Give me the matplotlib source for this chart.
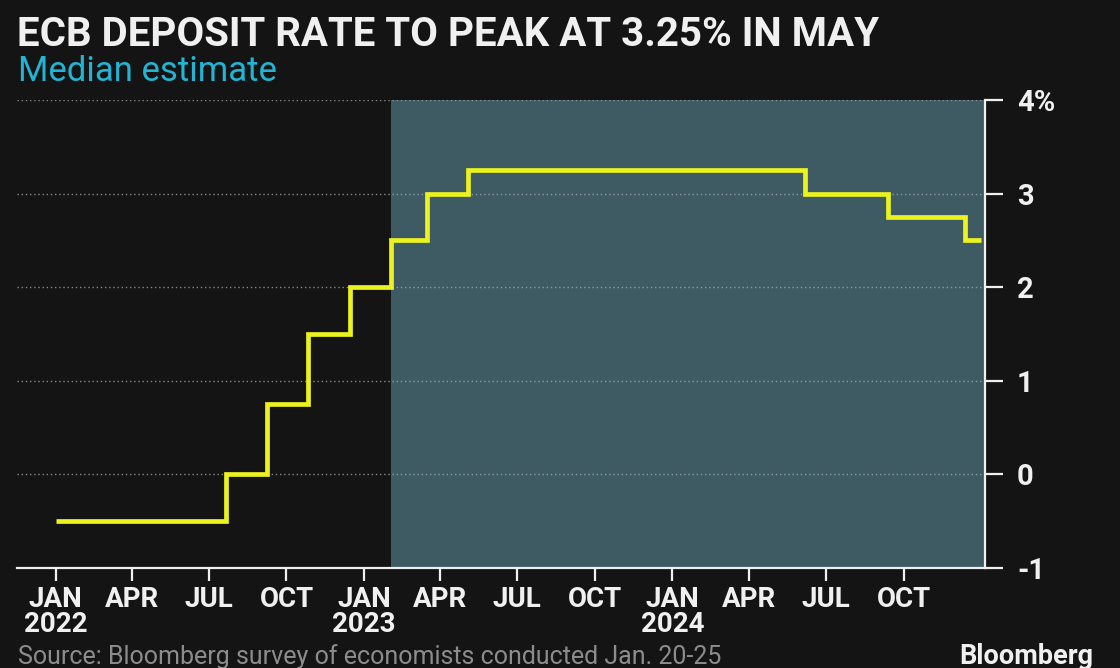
import matplotlib
matplotlib.use("Agg")
import matplotlib.pyplot as plt
import pandas as pd

# ---- data ----
change_dates = ["2022-01-01", "2022-07-21", "2022-09-08", "2022-10-27", "2022-12-15",
                "2023-02-02", "2023-03-16", "2023-05-04", "2024-06-06", "2024-09-12",
                "2024-12-12", "2024-12-31"]
deposit_rate = [-0.5, 0.0, 0.75, 1.5, 2.0, 2.5, 3.0, 3.25, 3.0, 2.75, 2.5, 2.5]

forecast_start = "2023-02-02"
tick_dates = ["2022-01-01", "2022-04-01", "2022-07-01", "2022-10-01", "2023-01-01",
              "2023-04-01", "2023-07-01", "2023-10-01", "2024-01-01", "2024-04-01",
              "2024-07-01", "2024-10-01"]
tick_labels = ["JAN\n2022", "APR", "JUL", "OCT", "JAN\n2023", "APR", "JUL", "OCT",
               "JAN\n2024", "APR", "JUL", "OCT"]
y_ticks = [-1, 0, 1, 2, 3, 4]
y_labels = ["-1", "0", "1", "2", "3", "4%"]
grid_levels = [0, 1, 2, 3, 4]

title = "ECB DEPOSIT RATE TO PEAK AT 3.25% IN MAY"
subtitle = "Median estimate"
source = "Source: Bloomberg survey of economists conducted Jan. 20-25"

# ---- style ----
FONT = ["Roboto", "DejaVu Sans"]
plt.rcParams["font.family"] = FONT
BG = "#141414"
SHADE = "#3e5b64"
YELLOW = "#ecf21e"
WHITE = "#f0f0f0"

fig = plt.figure(figsize=(11.2, 6.68), dpi=100, facecolor=BG)
ax = fig.add_axes([17 / 1120, 1 - 568 / 668, (985 - 17) / 1120, (568 - 100) / 668])
ax.set_facecolor(BG)

x = pd.to_datetime(change_dates)
xmin = pd.Timestamp("2021-11-16")
xmax = pd.Timestamp("2025-01-05")
ax.set_xlim(xmin, xmax)
ax.set_ylim(-1, 4)

ax.axvspan(pd.Timestamp(forecast_start), xmax, color=SHADE, zorder=0, lw=0)

for yv in grid_levels:
    ax.axhline(yv, color="#a6b0b4", lw=1.0, ls=(0, (1, 2)), zorder=1, alpha=0.75)

ax.step(x, deposit_rate, where="post", color=YELLOW, lw=3.4, zorder=3,
        solid_joinstyle="miter", solid_capstyle="butt")

# axes
for s in ["top", "left"]:
    ax.spines[s].set_visible(False)
ax.spines["right"].set_color(WHITE)
ax.spines["bottom"].set_color(WHITE)
ax.spines["right"].set_linewidth(1.6)
ax.spines["bottom"].set_linewidth(1.6)

ax.yaxis.tick_right()
ax.set_yticks(y_ticks)
ax.set_yticklabels(y_labels)
ax.tick_params(axis="y", colors=WHITE, length=13, width=1.6, pad=10,
               labelsize=21, labelcolor=WHITE)
for lab in ax.get_yticklabels():
    lab.set_fontweight("bold")

ax.set_xticks(pd.to_datetime(tick_dates))
ax.set_xticklabels(tick_labels)
ax.tick_params(axis="x", colors=WHITE, length=9, width=1.6, pad=4,
               labelsize=20, labelcolor=WHITE)
for lab in ax.get_xticklabels():
    lab.set_fontweight("bold")
    lab.set_linespacing(0.92)

fig.text(17 / 1120, 1 - 46 / 668, title, color=WHITE, fontsize=29, fontweight="bold",
         ha="left", va="baseline")
fig.text(18 / 1120, 1 - 81 / 668, subtitle, color="#22b4d2", fontsize=25,
         ha="left", va="baseline")
fig.text(18 / 1120, 1 - 664 / 668, source, color="#8c8c8c", fontsize=18,
         ha="left", va="baseline")
fig.text(1093 / 1120, 1 - 664 / 668, "Bloomberg", color=WHITE, fontsize=19.5,
         fontweight="bold", ha="right", va="baseline")

fig.savefig("out.png", dpi=100, facecolor=BG)
